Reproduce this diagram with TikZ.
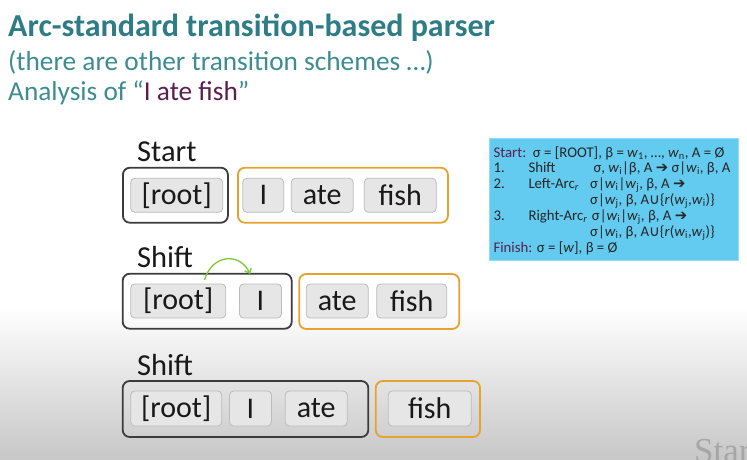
\documentclass[tikz,border=0pt]{standalone}
\usepackage{fontspec}
\setmainfont{Carlito}
\newfontfamily\djv{DejaVu Sans}
\newfontfamily\serifst{Liberation Serif}
\usetikzlibrary{arrows.meta}
\definecolor{teal1}{HTML}{2E7D86}
\definecolor{teal2}{HTML}{3C8C92}
\definecolor{purp}{HTML}{5B1F4E}
\definecolor{stackc}{HTML}{3C3C3C}
\definecolor{bufc}{HTML}{E5A22F}
\definecolor{wordfill}{HTML}{E6E6E6}
\definecolor{worddraw}{HTML}{BBBBBB}
\definecolor{infofill}{HTML}{62CBEF}
\definecolor{arrowg}{HTML}{7DC835}
\tikzset{
  stackbox/.style={draw=stackc, line width=1.8pt, rounded corners=7pt, inner sep=0pt},
  bufbox/.style={draw=bufc, line width=1.8pt, rounded corners=7pt, inner sep=0pt},
  wordbox/.style={draw=worddraw, fill=wordfill, line width=0.8pt, rounded corners=4pt, inner sep=0pt,
    font=\fontsize{30}{30}\selectfont, text=black!90},
  steplabel/.style={anchor=base west, inner sep=0pt, font=\fontsize{30.5}{30}\selectfont, text=black!90},
  infoline/.style={anchor=base west, inner sep=0pt, font=\fontsize{14.8}{15}\selectfont, text=black!85},
}
\newcommand{\wi}[1]{\textit{w}\textsubscript{#1}}
\newcommand{\arr}{{\djv\char"2794}}
\begin{document}
\begin{tikzpicture}[x=1pt,y=-1pt]
\useasboundingbox (0,0) rectangle (747,459);
\clip (0,0) rectangle (747,459);
\fill[white] (0,0) rectangle (747,308);
\shade[top color=white, bottom color=black!22] (0,307) rectangle (747,459);

% titles
\node[anchor=base west, inner sep=0pt, text=teal1, font=\fontsize{32}{32}\selectfont\bfseries] (title) at (8,36.5) {Arc-standard transition-based parser};
\node[anchor=base west, inner sep=0pt, text=teal2, font=\fontsize{27.3}{27}\selectfont] (sub) at (8,70) {(there are other transition schemes \dots)};
\node[anchor=base west, inner sep=0pt, text=teal2, font=\fontsize{27.3}{27}\selectfont] (ana) at (8,100) {Analysis of \textquotedblleft\textcolor{purp}{I ate fish}\textquotedblright};

% row 1
\node[steplabel] (lab1) at (137,161) {Start};
\node[stackbox, minimum width=105pt, minimum height=55pt] (stack1) at (175.4,195.2) {};
\node[bufbox, minimum width=210pt, minimum height=55pt] (buf1) at (342.9,195.2) {};
\node[wordbox, minimum width=92pt, minimum height=34pt] (root1) at (176.7,195.3) {[root]};
\node[wordbox, minimum width=41pt, minimum height=34pt] (I1) at (263.3,195.3) {I};
\node[wordbox, minimum width=62pt, minimum height=34pt] (ate1) at (322.2,195.3) {ate};
\node[wordbox, minimum width=72pt, minimum height=34pt] (fish1) at (400.2,195.3) {fish};

% row 2
\node[steplabel] (lab2) at (137,267.7) {Shift};
\node[stackbox, minimum width=169pt, minimum height=55pt] (stack2) at (207.2,301.2) {};
\node[bufbox, minimum width=160pt, minimum height=55pt] (buf2) at (379.2,301.5) {};
\node[wordbox, minimum width=95pt, minimum height=34pt] (root2) at (178.2,301) {[root]};
\node[wordbox, minimum width=42pt, minimum height=34pt] (I2) at (260.5,301) {I};
\node[wordbox, minimum width=62pt, minimum height=34pt] (ate2) at (337.2,301) {ate};
\node[wordbox, minimum width=70pt, minimum height=34pt] (fish2) at (411.7,301) {fish};
\coordinate (ga) at (204.5,280);
\coordinate (gb) at (250,274);
\draw[arrowg, line width=1.3pt, -{Straight Barb[length=4pt,width=7pt]}] (ga) .. controls (212,254) and (240,252) .. (gb);

% row 3
\node[steplabel] (lab3) at (137,375) {Shift};
\node[stackbox, minimum width=245.6pt, minimum height=56pt] (stack3) at (245.5,409) {};
\node[bufbox, minimum width=104.3pt, minimum height=56pt] (buf3) at (427.9,409) {};
\node[wordbox, minimum width=91pt, minimum height=35pt] (root3) at (176.2,408.5) {[root]};
\node[wordbox, minimum width=42pt, minimum height=35pt] (I3) at (250.5,408.5) {I};
\node[wordbox, minimum width=62pt, minimum height=35pt] (ate3) at (316.2,408.5) {ate};
\node[wordbox, minimum width=83pt, minimum height=35pt] (fish3) at (429.7,408.5) {fish};

% info box
\node[draw=infofill!70!white, line width=0.8pt, fill=infofill, minimum width=249pt, minimum height=122pt, inner sep=0pt] (info) at (613.5,199) {};
\node[infoline] (i1) at (493.3,157) {\textcolor{purp}{Start:}\ \ σ = [ROOT], β = \wi{1}, …, \wi{n}, A = Ø};
\node[infoline] (i2a) at (493.3,172.8) {1.};
\node[infoline] (i2b) at (528.3,172.8) {Shift};
\node[infoline] (i2c) at (593.3,172.8) {σ, \wi{i}|β, A \arr\ σ|\wi{i}, β, A};
\node[infoline] (i3a) at (493.3,188.7) {2.};
\node[infoline] (i3b) at (528.3,188.7) {Left-Arc\textsubscript{\textit{r}}};
\node[infoline] (i3c) at (590,188.7) {σ|\wi{i}|\wi{j}, β, A \arr};
\node[infoline] (i4) at (590,204.5) {σ|\wi{j}, β, A{\djv ∪}\{\textit{r}(\wi{j},\wi{i})\}};
\node[infoline] (i5a) at (493.3,220.3) {3.};
\node[infoline] (i5b) at (528.3,220.3) {Right-Arc\textsubscript{\textit{r}}};
\node[infoline] (i5c) at (591.7,220.3) {σ|\wi{i}|\wi{j}, β, A \arr};
\node[infoline] (i6) at (590,236.2) {σ|\wi{i}, β, A{\djv ∪}\{\textit{r}(\wi{i},\wi{j})\}};
\node[infoline] (i7) at (493.3,252) {\textcolor{purp}{Finish:} σ = [\textit{w}], β = Ø};

% partial next-slide text
\node[anchor=base west, inner sep=0pt, text=black!35, font=\serifst\fontsize{35}{35}\selectfont] (star) at (694,462) {Star};
\end{tikzpicture}
\end{document}
